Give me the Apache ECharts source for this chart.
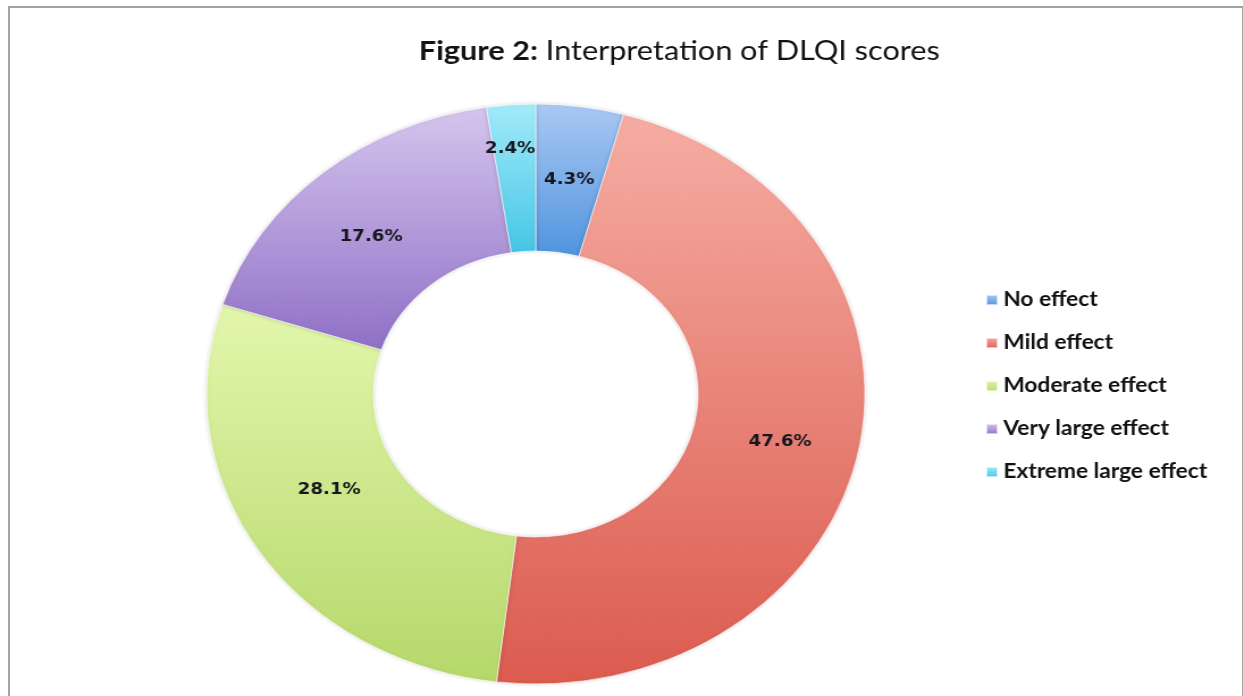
<!DOCTYPE html>
<html>
<head>
    <meta charset="utf-8">
    <title>ECharts</title>
    <script src="https://cdn.jsdelivr.net/npm/echarts@6/dist/echarts.min.js"></script>
    <style>
        body { margin: 0; background: #fff; overflow: hidden; }
        #frame { position: absolute; left: 8px; top: 6px; width: 1232px; height: 720px;
                 border: 2px solid #a3a3a3; border-bottom: none; }
        #main { position: absolute; left: 0; top: 0; width: 1095px; height: 696px;
                transform: scaleX(1.135); transform-origin: 0 0; }
    </style>
</head>
<body>
<div id="frame"></div>
<!-- the reference picture is stretched sideways, so the chart is drawn narrower and scaled -->
<div id="main"></div>
<script type="text/javascript">

    // categories and shares (%)
    var categories = ['No effect', 'Mild effect', 'Moderate effect', 'Very large effect', 'Extreme large effect']
    var shares = [4.3, 47.6, 28.1, 17.6, 2.4]
    // gradient top / bottom colours per slice
    var topColors = ['#aac9f3', '#f6ada3', '#e3f7ad', '#d6c5ee', '#a2ebfa']
    var bottomColors = ['#5094df', '#dc5b4f', '#b6d86a', '#8f70c6', '#46c6e5']

    var myChart = echarts.init(document.getElementById('main'))

    // nudges so the labels sit where the original put them
    var nudge = [[0, 3], [0, 5], [3, -22], [-3, 10], [-6, -26]]

    var data = []
    for (var i = 0; i < categories.length; i++) {
        data.push({
            name: categories[i],
            value: shares[i],
            label: {offset: nudge[i]},
            itemStyle: {
                color: new echarts.graphic.LinearGradient(0, 0, 0, 1, [
                    {offset: 0, color: topColors[i]},
                    {offset: 1, color: bottomColors[i]}
                ])
            }
        })
    }

    var option = {
        animation: false,
        title: {
            text: '{b|Figure 2:} Interpretation of DLQI scores',
            left: 364,
            top: 33,
            textStyle: {
                fontFamily: 'Lato',
                fontSize: 27,
                fontWeight: 'normal',
                color: '#111',
                rich: {
                    b: {fontFamily: 'Lato', fontSize: 27, fontWeight: 'bold', color: '#111'}
                }
            }
        },
        legend: {
            orient: 'vertical',
            left: 863,
            top: 285,
            itemWidth: 10,
            itemHeight: 10,
            itemGap: 23,
            itemTextGap: 6,
            icon: 'rect',
            data: categories,
            textStyle: {fontFamily: 'Lato', fontSize: 20, fontWeight: 'bold', color: '#111'}
        },
        series: [{
            type: 'pie',
            center: [472, 394],
            radius: [143, 290],
            startAngle: 90,
            clockwise: true,
            avoidLabelOverlap: false,
            itemStyle: {
                borderColor: 'rgba(255,255,255,0.6)',
                borderWidth: 1,
                shadowBlur: 4,
                shadowColor: 'rgba(0,0,0,0.15)'
            },
            label: {
                show: true,
                position: 'inside',
                formatter: '{c}%',
                fontFamily: 'DejaVu Sans',
                fontWeight: 'bold',
                fontSize: 16,
                color: '#16161e'
            },
            labelLine: {show: false},
            emphasis: {disabled: true},
            data: data
        }]
    }

    myChart.setOption(option)

</script>
</body>
</html>
